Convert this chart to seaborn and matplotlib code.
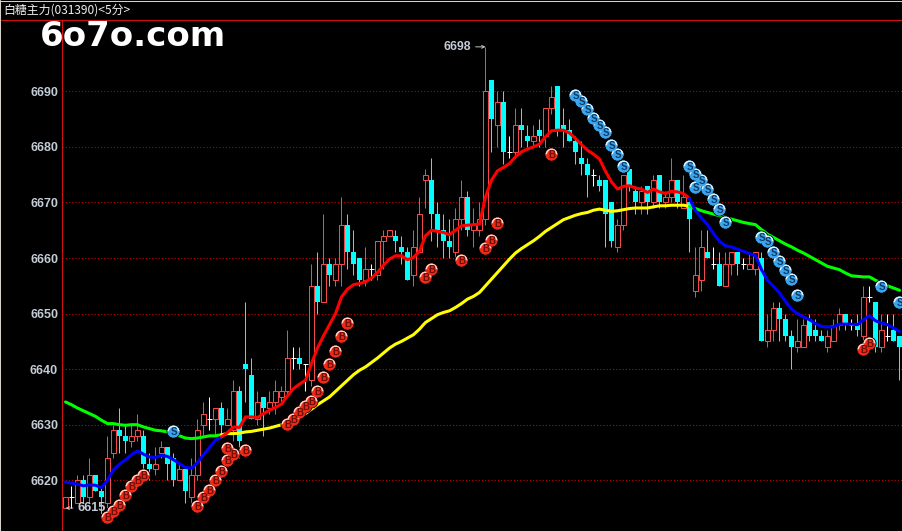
import numpy as np
import pandas as pd
import seaborn as sns
import matplotlib.pyplot as plt
from matplotlib.lines import Line2D

#candles, one row per 5 minute bar
opens = [6615,6617,6616,6620,6617,6621,6618,6616,6625,6629,6628,6627,6628,6628,6623,6622,6625,6626,6624,6620,
         6622,6617,6621,6630,6631,6631,6633,6630,6629,6636,6641,6639,6631,6635,6633,6634,6635,6636,6642,6642,
         6641,6638,6655,6652,6659,6656,6659,6666,6661,6660,6656,6658,6657,6663,6664,6664,6662,6661,6657,6661,
         6674,6674,6668,6665,6663,6661,6667,6671,6665,6665,6667,6692,6684,6688,6679,6679,6684,6682,6681,6683,
         6682,6687,6691,6684,6683,6681,6678,6677,6675,6674,6674,6670,6662,6666,6676,6672,6670,6673,6670,6675,
         6670,6671,6674,6669,6670,6654,6656,6661,6659,6659,6655,6659,6661,6659,6658,6658,6660,6645,6647,6651,
         6649,6646,6644,6644,6649,6647,6646,6644,6645,6648,6650,6648,6648,6646,6653,6652,6644,6646,6647,6646]
closes = [6617,6617,6620,6617,6621,6618,6617,6624,6629,6628,6627,6628,6629,6623,6622,6623,6626,6623,6620,6622,
          6618,6621,6629,6632,6631,6633,6630,6631,6636,6627,6640,6631,6634,6633,6634,6636,6636,6642,6642,6641,
          6641,6655,6652,6659,6657,6659,6666,6661,6659,6656,6658,6658,6663,6664,6665,6663,6661,6656,6662,6668,
          6675,6668,6665,6663,6662,6667,6671,6665,6666,6667,6690,6685,6688,6679,6679,6684,6683,6681,6682,6682,
          6687,6689,6683,6683,6681,6679,6677,6675,6675,6673,6668,6663,6666,6675,6673,6670,6672,6670,6674,6670,
          6671,6674,6670,6671,6667,6657,6662,6660,6659,6655,6659,6661,6659,6659,6659,6661,6645,6647,6651,6649,
          6646,6644,6645,6648,6646,6646,6645,6646,6648,6650,6648,6648,6647,6653,6653,6644,6647,6646,6645,6644]
highs = [6617,6619,6621,6621,6624,6621,6619,6628,6630,6633,6630,6630,6632,6629,6625,6626,6627,6626,6625,6623,
         6622,6624,6631,6634,6635,6633,6634,6633,6638,6637,6652,6642,6636,6635,6636,6638,6637,6647,6644,6644,
         6641,6659,6661,6668,6660,6660,6671,6668,6665,6660,6662,6659,6663,6665,6665,6665,6664,6662,6665,6671,
         6676,6678,6670,6668,6667,6669,6674,6672,6669,6670,6698,6692,6690,6690,6682,6687,6687,6684,6684,6685,
         6687,6691,6691,6687,6685,6682,6681,6678,6676,6675,6674,6670,6667,6675,6676,6673,6673,6673,6675,6675,
         6672,6678,6674,6675,6671,6662,6665,6665,6662,6661,6661,6661,6661,6660,6661,6661,6661,6650,6652,6652,
         6650,6647,6649,6649,6650,6649,6647,6647,6649,6651,6650,6649,6650,6655,6655,6652,6650,6650,6650,6646]
lows = [6615,6615,6616,6616,6616,6618,6614,6615,6624,6625,6625,6626,6627,6621,6620,6621,6624,6620,6619,6620,
        6616,6616,6620,6628,6629,6628,6628,6630,6627,6624,6634,6631,6630,6628,6632,6632,6634,6635,6640,6640,
        6636,6637,6650,6652,6655,6655,6655,6658,6657,6655,6655,6656,6656,6658,6664,6661,6659,6656,6655,6661,
        6669,6663,6662,6660,6660,6660,6665,6664,6662,6664,6666,6679,6680,6677,6678,6678,6680,6680,6680,6680,
        6680,6686,6682,6680,6681,6677,6675,6671,6673,6672,6662,6662,6661,6665,6672,6668,6668,6668,6669,6669,
        6669,6670,6669,6669,6661,6653,6654,6660,6658,6655,6655,6657,6657,6658,6658,6657,6645,6644,6645,6645,
        6645,6640,6643,6644,6645,6645,6645,6643,6645,6647,6647,6647,6646,6645,6652,6643,6643,6645,6645,6638]

fast_ma = [6619.7,6619.5,6619.3,6619.0,6619.2,6619.1,6618.7,6620.0,6621.9,6622.9,6623.7,6624.6,6625.3,6624.7,6624.2,
           6624.1,6624.5,6624.3,6623.7,6623.0,6622.3,6622.2,6623.2,6624.6,6625.9,6627.2,6627.8,6628.6,6629.6,6629.5,
           6631.4,6631.4,6631.3,6632.0,6632.6,6633.1,6633.7,6635.2,6636.5,6637.3,6638.0,6641.0,6643.8,6646.0,6648.0,
           6650.0,6653.0,6654.4,6655.2,6655.4,6655.7,6656.4,6657.4,6658.7,6659.8,6660.4,6660.4,6659.7,6660.1,6661.2,
           6664.0,6665.0,6664.8,6664.6,6664.2,6665.0,6665.8,6665.9,6666.0,6666.1,6671.0,6674.0,6675.7,6676.3,6677.0,
           6678.2,6679.1,6679.6,6680.0,6680.5,6681.8,6682.9,6683.0,6683.0,6682.5,6681.5,6680.4,6679.4,6678.7,6677.8,
           6675.6,6673.7,6672.4,6672.9,6673.0,6672.6,6672.4,6671.8,6672.4,6671.9,6671.6,6672.0,6671.9,6671.6,6670.7,
           6668.5,6667.2,6666.0,6664.4,6663.0,6662.2,6662.0,6661.6,6661.2,6660.8,6660.4,6657.9,6656.0,6654.9,6653.7,
           6652.2,6650.8,6650.0,6649.4,6648.9,6648.2,6647.7,6647.6,6647.6,6648.1,6648.1,6648.1,6648.0,6648.9,6649.6,
           6648.7,6648.3,6648.0,6647.4,6646.8]
slow_ma = [6634.1,6633.6,6633.0,6632.5,6632.0,6631.5,6630.8,6630.2,6630.2,6630.0,6629.9,6630.0,6630.0,6629.6,6629.3,
           6629.0,6628.9,6628.7,6628.6,6628.0,6627.6,6627.5,6627.6,6627.8,6628.0,6628.0,6628.2,6628.4,6628.4,6628.5,
           6628.7,6628.8,6629.0,6629.2,6629.4,6629.7,6630.0,6630.3,6630.8,6631.3,6632.0,6632.8,6633.6,6634.3,6635.0,
           6636.0,6637.0,6638.0,6639.0,6639.8,6640.4,6641.2,6642.0,6642.9,6643.8,6644.5,6645.0,6645.6,6646.2,6647.2,
           6648.4,6649.1,6649.8,6650.2,6650.5,6651.1,6651.8,6652.6,6653.1,6653.8,6655.0,6656.2,6657.4,6658.6,6659.8,
           6660.9,6661.7,6662.4,6663.1,6663.9,6664.8,6665.5,6666.2,6666.9,6667.3,6667.7,6668.0,6668.2,6668.6,6668.8,
           6668.6,6668.4,6668.5,6668.7,6668.9,6669.0,6669.0,6669.0,6669.2,6669.4,6669.4,6669.5,6669.5,6669.5,6669.3,
           6668.9,6668.5,6668.2,6667.9,6667.6,6667.3,6667.0,6666.7,6666.4,6666.2,6666.0,6665.1,6664.3,6663.7,6663.1,
           6662.5,6662.0,6661.4,6660.9,6660.3,6659.7,6659.1,6658.5,6658.2,6657.9,6657.3,6656.8,6656.7,6656.6,6656.6,
           6656.0,6655.5,6655.0,6654.6,6654.2]
uptrend_bars = (26, 104) #first and last bar where the lines are red/yellow

buy_bars = [7,8,9,10,11,12,13,22,23,24,25,26,27,27,28,30,37,38,39,40,41,42,43,44,45,46,47,60,61,66,70,71,72,81,133,134]
buy_prices = [6613.4,6614.4,6615.6,6617.4,6619,6620,6621,6615.4,6617,6618.3,6620,6621.7,6623.7,6625.9,6624.7,6625.4,
              6630.2,6631,6632.3,6633.3,6634.3,6636,6638.6,6641,6643.3,6646,6648.3,6656.5,6658,6659.7,6661.8,6663.2,
              6666.3,6678.8,6643.7,6644.7]
sell_bars = [18,85,86,87,88,89,90,91,92,93,104,105,106,105,107,108,109,110,116,117,118,119,120,121,122,136,139]
sell_prices = [6628.9,6689.3,6688.2,6686.9,6685.2,6684,6682.6,6680.4,6678.7,6676.6,6676.6,6675.2,6674.1,6672.8,6672.4,
               6670.6,6668.9,6666.4,6663.7,6663,6661,6659.4,6657.8,6656.2,6653.3,6654.9,6652.1]

tick_values = [6620,6630,6640,6650,6660,6670,6680,6690]
title_text = "白糖主力(031390)<5分>"
watermark = "6o7o.com"

RED = "#f24a4a"
CYAN = "#00ffff"
LABEL = "#c4ccd6"

sns.set_theme(style="dark", rc={"axes.facecolor": "black", "figure.facecolor": "black", "axes.grid": False})
plt.rcParams["font.family"] = ["Noto Sans CJK SC", "DejaVu Sans"]

W, H = 903, 531
fig = plt.figure(figsize=(W/100, H/100), dpi=100)
ax = fig.add_axes([62/W, 0, (W-62)/W, (H-19.5)/H])

bars = pd.DataFrame({"o": opens, "h": highs, "l": lows, "c": closes})
bars["bar"] = bars.index
bars["fast"] = fast_ma
bars["slow"] = slow_ma

#gridlines
for v in tick_values:
    ax.axhline(v, color="#b80000", lw=0.72, ls=(0, (1.2, 2)), zorder=1)

#candles, 1px wicks snapped to the pixel grid
up = bars[bars.c > bars.o]
down = bars[bars.c < bars.o]
flat = bars[bars.c == bars.o]
for part, col in ((up, RED), (down, CYAN), (flat, "white")):
    wicks = ax.vlines(part.bar, part.l, part.h, color=col, lw=0.72, zorder=2)
    wicks.set_snap(True)
ax.bar(up.bar, up.c-up.o, bottom=up.o, width=0.68, facecolor="black", edgecolor=RED, lw=0.72, zorder=3, snap=True)
ax.bar(down.bar, down.o-down.c, bottom=down.c, width=0.84, color=CYAN, lw=0, zorder=3, snap=True)
ticks = ax.hlines(flat.o, flat.bar-0.42, flat.bar+0.42, color="white", lw=0.72, zorder=3)
ticks.set_snap(True)

#moving averages change colour with the trend
a, b = uptrend_bars
slices = [(0, a, "#0000ff", "#00ff00"), (a, b, "#ff0000", "#ffff00"), (b, 139, "#0000ff", "#00ff00")]
for start, end, fast_col, slow_col in slices:
    seg = bars.iloc[start:end+1]
    sns.lineplot(data=seg, x="bar", y="slow", color=slow_col, lw=2.2, ax=ax, zorder=4, errorbar=None, estimator=None)
for start, end, fast_col, slow_col in slices:
    seg = bars.iloc[start:end+1]
    sns.lineplot(data=seg, x="bar", y="fast", color=fast_col, lw=2.2, ax=ax, zorder=4, errorbar=None, estimator=None)

#buy and sell badges
def badges(xs, ys, letter, base, light, ink):
    marks = pd.DataFrame({"x": xs, "y": ys})
    sns.scatterplot(data=marks, x="x", y="y", s=88, color=base, edgecolor="black", linewidth=0.6, ax=ax, zorder=5, legend=False)
    ax.plot(xs, ys, ls="none", marker="o", ms=8.6, mew=0, fillstyle="top", markerfacecolor=light,
            markerfacecoloralt=base, zorder=6)
    ax.plot(xs, ys, ls="none", marker="o", ms=6.4, mew=0, color=base, zorder=7)
    for x, y in zip(xs, ys):
        ax.text(x, y, letter, color=ink, fontsize=7, fontweight="bold", family="Liberation Sans",
                ha="center", va="center_baseline", zorder=8)

badges(buy_bars, buy_prices, "B", "#f02818", "#ffd8cc", "#6a1008")
badges(sell_bars, sell_prices, "S", "#3ca4ec", "#e4f4ff", "#0c3c66")

#high and low tags
ax.annotate("6698", xy=(70, 6698), xytext=(-42, 0), textcoords=("offset pixels"), color=LABEL, fontsize=8.8,
            fontweight="bold", family="Liberation Sans", va="center", ha="left",
            arrowprops=dict(arrowstyle="->", color="#c8c8c8", lw=0.7, shrinkA=1, shrinkB=0, mutation_scale=5), zorder=9)
ax.annotate("6615", xy=(0, 6615), xytext=(12, 0), textcoords=("offset pixels"), color=LABEL, fontsize=9.2,
            fontweight="bold", family="Liberation Sans", va="center", ha="left",
            arrowprops=dict(arrowstyle="->", color="#c8c8c8", lw=0.7, shrinkA=1, shrinkB=0, mutation_scale=5), zorder=9)

ax.set_xlim((62-65.5)/6, (W-65.5)/6)
ax.set_ylim(6690-(H-91.3)/5.557, 6690+(91.3-19.5)/5.557)
ax.set_xlabel("")
ax.set_ylabel("")
ax.set_xticks([])
ax.set_yticks(tick_values)
ax.tick_params(axis="y", length=0, pad=2.8, labelcolor=LABEL)
for lab in ax.get_yticklabels():
    lab.set_fontfamily("Liberation Sans")
    lab.set_fontweight("bold")
    lab.set_fontsize(9)
for side in ("right", "bottom"):
    ax.spines[side].set_visible(False)
for side in ("left", "top"):
    ax.spines[side].set_color("#d01010")
    ax.spines[side].set_linewidth(0.8)

#window border and header
fig.add_artist(Line2D([0.5/W, 0.5/W], [0, 1], color="#d4d0c8", lw=0.75))
fig.add_artist(Line2D([0, 1], [1-0.5/H, 1-0.5/H], color="#d4d0c8", lw=0.75))
fig.add_artist(Line2D([1/W, 62/W], [1-19.5/H, 1-19.5/H], color="#d01010", lw=0.8))
fig.text(3/W, 1-10.5/H, title_text, color="#f0f0f0", fontsize=8.6, ha="left", va="center")
fig.text(40/W, 1-46/H, watermark, color="white", fontsize=24.5, fontweight="bold", family="DejaVu Sans",
         ha="left", va="baseline", zorder=20)

fig.savefig("out.png", dpi=100, facecolor="black")
